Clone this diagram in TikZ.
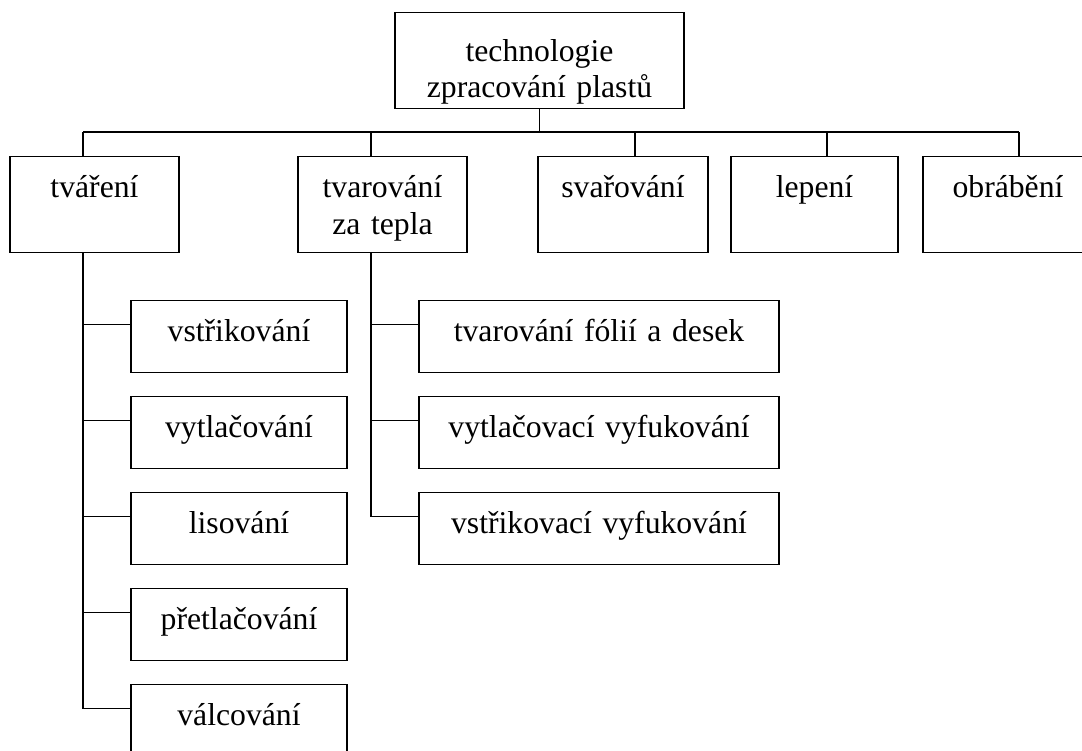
\documentclass[tikz,border=0pt]{standalone}
\usepackage{fontspec}
\setmainfont{Liberation Serif}
\newcommand\dfont{\fontsize{31.7}{36}\selectfont}
\begin{document}
\begin{tikzpicture}[x=1pt,y=-1pt,
  box/.style={draw, line width=1.5pt, inner sep=0pt, outer sep=0pt, align=center, anchor=north west, font=\dfont},
  lvl/.style={box, text width=#1, text height=41pt, text depth=55pt},
  sub/.style={box, text width=#1, text height=41pt, text depth=31pt},
  conn/.style={line width=1.5pt}]
\clip (0,0) rectangle (1082,751);
% root
\node[box, text width=289pt, text height=48.8pt, text depth=47.2pt] (root) at (395,12.7) {technologie\\zpracování plastů};
% level 1
\node[lvl=169pt] (tvareni) at (10,156.7) {tváření};
\node[lvl=169pt] (tepla) at (298,156.7) {tvarování\\[0.7pt]za tepla};
\node[lvl=170pt] (svar) at (538,156.7) {svařování};
\node[lvl=167pt] (lep) at (731,156.7) {lepení};
\node[lvl=170pt] (obr) at (923,156.7) {obrábění};
% bus
\coordinate (b1) at (83,132);
\coordinate (b2) at (371,132);
\coordinate (b3) at (635,132);
\coordinate (b4) at (827,132);
\coordinate (b5) at (1019,132);
\draw[conn] (root.south -| 539.5,0) -- (539.5,132);
\draw[conn] (b1) -- (b5);
\draw[conn] (b1) -- (b1 |- tvareni.north);
\draw[conn] (b2) -- (b2 |- tepla.north);
\draw[conn] (b3) -- (b3 |- svar.north);
\draw[conn] (b4) -- (b4 |- lep.north);
\draw[conn] (b5) -- (b5 |- obr.north);
% left column
\node[sub=216pt] (s1) at (131,300.7) {vstřikování};
\node[sub=216pt] (s2) at (131,396.7) {vytlačování};
\node[sub=216pt] (s3) at (131,492.7) {lisování};
\node[sub=216pt] (s4) at (131,588.7) {přetlačování};
\node[sub=216pt] (s5) at (131,684.7) {válcování};
\coordinate (l1) at (83,324.7);
\coordinate (l2) at (83,420.7);
\coordinate (l3) at (83,516.7);
\coordinate (l4) at (83,612.7);
\coordinate (l5) at (83,708.7);
\draw[conn] (tvareni.south -| l1) -- (l5) -- (l5 -| s5.west);
\draw[conn] (l1) -- (l1 -| s1.west);
\draw[conn] (l2) -- (l2 -| s2.west);
\draw[conn] (l3) -- (l3 -| s3.west);
\draw[conn] (l4) -- (l4 -| s4.west);
% right column
\node[sub=360pt] (r1) at (419,300.7) {tvarování fólií a desek};
\node[sub=360pt] (r2) at (419,396.7) {vytlačovací vyfukování};
\node[sub=360pt] (r3) at (419,492.7) {vstřikovací vyfukování};
\coordinate (m1) at (371,324.7);
\coordinate (m2) at (371,420.7);
\coordinate (m3) at (371,516.7);
\draw[conn] (tepla.south -| m1) -- (m3) -- (m3 -| r3.west);
\draw[conn] (m1) -- (m1 -| r1.west);
\draw[conn] (m2) -- (m2 -| r2.west);
\end{tikzpicture}
\end{document}
